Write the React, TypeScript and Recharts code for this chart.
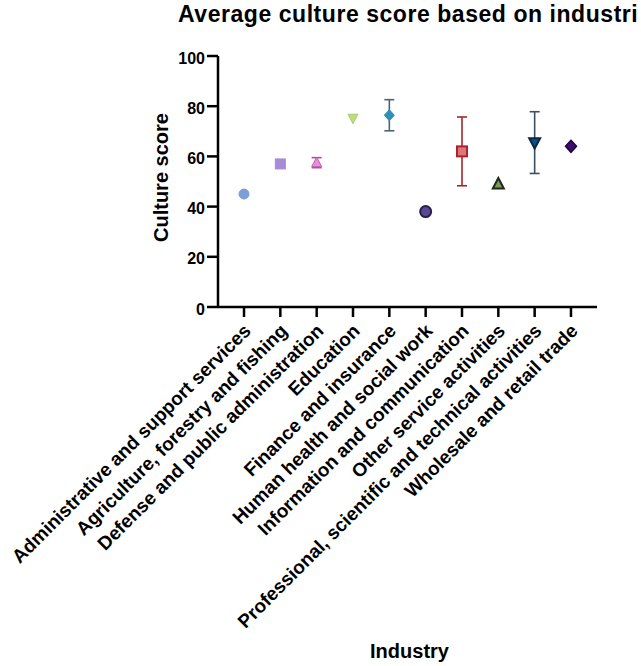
import { ScatterChart, Scatter, XAxis, YAxis, ErrorBar } from 'recharts';

const industries = [
  'Administrative and support services',
  'Agriculture, forestry and fishing',
  'Defense and public administration',
  'Education',
  'Finance and insurance',
  'Human health and social work',
  'Information and communication',
  'Other service activities',
  'Professional, scientific and technical activities',
  'Wholesale and retail trade',
];

const meanScores = [45, 57, 57.5, 75.2, 76.4, 38, 62, 49, 65.5, 64];
const errorSizes = [0, 0, 2, 0, 6.2, 0, 13.7, 0, 12.3, 0];
const yTicks = [0, 20, 40, 60, 80, 100];
const xTicks = industries.map((_, i) => i);

const font = '"Liberation Sans", Arial, Helvetica, sans-serif';

// marker look per industry (GraphPad-ish)
const markers = [
  { shape: 'circle', fill: '#7b9fd6', stroke: '#7b9fd6', size: 10, sw: 1, errColor: '' },
  { shape: 'square', fill: '#a68bd6', stroke: '#a68bd6', size: 10, sw: 1, errColor: '' },
  { shape: 'triangle', fill: '#ea8cda', stroke: '#c25db2', size: 10, sw: 1, errColor: '#b24aa2' },
  { shape: 'triangleDown', fill: '#bcdc80', stroke: '#aacb6c', size: 10, sw: 1, errColor: '' },
  { shape: 'diamond', fill: '#2e8fb8', stroke: '#2e8fb8', size: 10, sw: 1, errColor: '#4a6475' },
  { shape: 'circle', fill: '#5a4898', stroke: '#2a1f48', size: 11, sw: 2, errColor: '' },
  { shape: 'square', fill: '#e0767c', stroke: '#a8242c', size: 10, sw: 2, errColor: '#a8242c' },
  { shape: 'triangle', fill: '#7a9a5a', stroke: '#1e2a18', size: 11, sw: 2, errColor: '' },
  { shape: 'triangleDown', fill: '#0b4f88', stroke: '#0d2640', size: 11, sw: 2, errColor: '#3a5060' },
  { shape: 'diamond', fill: '#3b0b6e', stroke: '#1d0638', size: 11, sw: 1.5, errColor: '' },
];

type M = (typeof markers)[number];

function Marker({ cx, cy, m }: { cx: number; cy: number; m: M }) {
  const r = m.size / 2;
  const common = { fill: m.fill, stroke: m.stroke, strokeWidth: m.sw };
  if (m.shape === 'circle') return <circle cx={cx} cy={cy} r={r} {...common} />;
  if (m.shape === 'square') return <rect x={cx - r} y={cy - r} width={m.size} height={m.size} {...common} />;
  if (m.shape === 'triangle')
    return <polygon points={`${cx},${cy - r * 1.1} ${cx + r},${cy + r * 0.8} ${cx - r},${cy + r * 0.8}`} {...common} />;
  if (m.shape === 'triangleDown')
    return <polygon points={`${cx},${cy + r * 1.1} ${cx + r},${cy - r * 0.8} ${cx - r},${cy - r * 0.8}`} {...common} />;
  return <polygon points={`${cx},${cy - r * 1.1} ${cx + r},${cy} ${cx},${cy + r * 1.1} ${cx - r},${cy}`} {...common} />;
}

function XTick({ x, y, payload }: any) {
  return (
    <g transform={`translate(${x + 8},${y + 15})`}>
      <text textAnchor="end" transform="rotate(-45)" fontFamily={font} fontWeight="bold" fontSize={19} fill="#000">
        {industries[payload.value]}
      </text>
    </g>
  );
}

function YTitle({ viewBox }: any) {
  const cy = viewBox.y + viewBox.height / 2 - 4;
  return (
    <text x={168} y={cy} transform={`rotate(-90, 168, ${cy})`} textAnchor="middle"
      fontFamily={font} fontWeight="bold" fontSize={20} fill="#000">
      Culture score
    </text>
  );
}

function XTitle({ viewBox }: any) {
  return (
    <text x={viewBox.x + viewBox.width / 2 + 2} y={658} textAnchor="middle"
      fontFamily={font} fontWeight="bold" fontSize={20} fill="#000">
      Industry
    </text>
  );
}

export default function App() {
  const axisStyle = { stroke: '#000', strokeWidth: 2.5 };
  return (
    <div style={{ position: 'absolute', left: 0, top: 0, width: 641, height: 666, overflow: 'hidden', background: '#fff' }}>
      <div style={{ position: 'absolute', left: 178, top: 1, whiteSpace: 'nowrap', fontFamily: font, fontWeight: 'bold', fontSize: 23, letterSpacing: 0.55, color: '#000' }}>
        Average culture score based on industri
      </div>
      <ScatterChart width={641} height={666} margin={{ top: 56, right: 44, bottom: 9, left: 0 }}>
        <XAxis
          type="number"
          dataKey="x"
          domain={[-0.716, 9.716]}
          allowDataOverflow
          ticks={xTicks}
          interval={0}
          height={350}
          tickSize={10}
          tickMargin={0}
          axisLine={axisStyle}
          tickLine={axisStyle}
          tick={<XTick />}
          label={<XTitle />}
        />
        <YAxis
          type="number"
          dataKey="y"
          domain={[0, 100]}
          allowDataOverflow
          ticks={yTicks}
          interval={0}
          width={218}
          tickSize={11}
          tickMargin={2}
          axisLine={axisStyle}
          tickLine={axisStyle}
          tick={{ fontFamily: font, fontWeight: 'bold', fontSize: 16, fill: '#000', dy: 2 }}
          label={<YTitle />}
        />
        {industries.map((name, i) => {
          const m = markers[i];
          return (
            <Scatter
              key={name}
              name={name}
              data={[{ x: i, y: meanScores[i], err: errorSizes[i] }]}
              isAnimationActive={false}
              shape={(p: any) => <Marker cx={p.cx} cy={p.cy} m={m} />}
            >
              {errorSizes[i] > 0 && (
                <ErrorBar dataKey="err" direction="y" width={5} stroke={m.errColor} strokeWidth={1.6} isAnimationActive={false} />
              )}
            </Scatter>
          );
        })}
      </ScatterChart>
    </div>
  );
}
